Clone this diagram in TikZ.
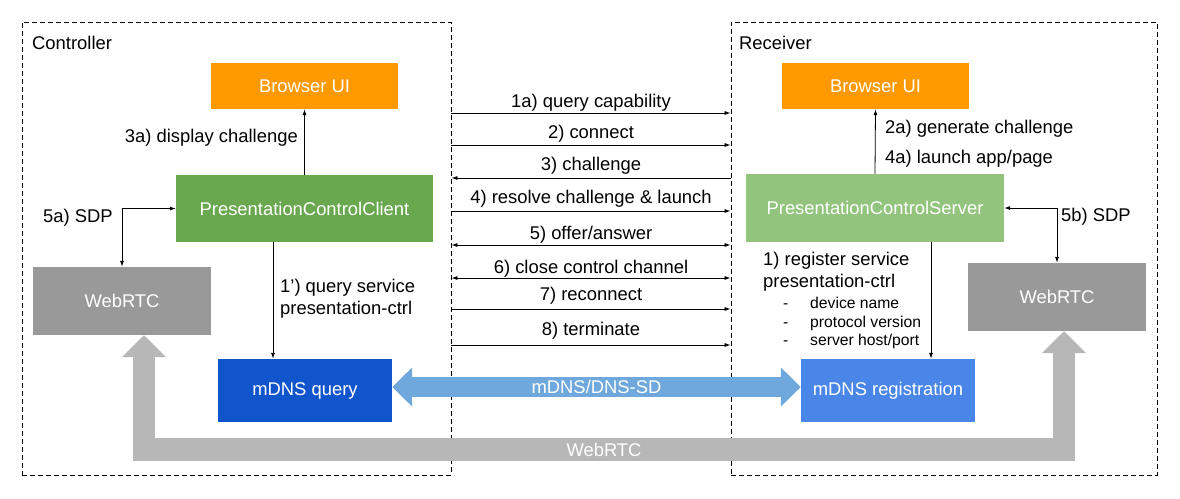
\documentclass[tikz,border=0pt]{standalone}
\usepackage{fontspec}
\setmainfont{Liberation Sans}
\usetikzlibrary{arrows.meta}
\definecolor{uiorange}{HTML}{FF9900}
\definecolor{clientgreen}{HTML}{6AA84F}
\definecolor{servergreen}{HTML}{93C47D}
\definecolor{rtcgray}{HTML}{999999}
\definecolor{querydark}{HTML}{1155CC}
\definecolor{regblue}{HTML}{4A86E8}
\definecolor{dnsblue}{HTML}{6FA8DC}
\definecolor{pipegray}{HTML}{B7B7B7}
\begin{document}
\begin{tikzpicture}[x=1pt, y=-1pt, >={Latex[length=6pt,width=4pt]},
  every node/.style={font=\fontsize{18.4}{22}\selectfont, inner sep=0pt},
  zone/.style={draw, line width=0.9pt, dash pattern=on 5pt off 3pt, minimum height=453},
  box/.style={rectangle, text=white},
  msg/.style={line width=0.8pt},
  small/.style={font=\fontsize{15.7}{18}\selectfont, anchor=base west}]
\useasboundingbox (0,0) rectangle (1180,498);
% the two sides
\node[zone, minimum width=429] (ctrl) at (236.5,248.5) {};
\node[zone, minimum width=426] (recv) at (944,248.5) {};
\node[anchor=west] (ctrlname) at (32,43) {Controller};
\node[anchor=west] (recvname) at (739,43) {Receiver};
% boxes
\node[box, fill=uiorange, minimum width=187, minimum height=46] (uiC) at (304.5,86) {Browser UI};
\node[box, fill=uiorange, minimum width=187, minimum height=46] (uiR) at (875.5,86) {Browser UI};
\node[box, fill=clientgreen, minimum width=257, minimum height=67] (client) at (304.5,208.5) {PresentationControlClient};
\node[box, fill=servergreen, minimum width=258, minimum height=68] (server) at (875,208) {PresentationControlServer};
\node[box, fill=rtcgray, minimum width=178, minimum height=68] (rtcC) at (122,301) {WebRTC};
\node[box, fill=rtcgray, minimum width=178, minimum height=68] (rtcR) at (1057,297) {WebRTC};
\node[box, fill=querydark, minimum width=174, minimum height=63] (query) at (305,390.5) {mDNS query};
\node[box, fill=regblue, minimum width=174, minimum height=63] (reg) at (888,390.5) {mDNS registration};
% big arrows
\draw[dnsblue, line width=20pt, {Triangle[length=20pt,width=38pt]}-{Triangle[length=20pt,width=38pt]}]
  ([yshift=3.5pt]query.east) -- ([yshift=3.5pt]reg.west) node[midway, text=white] {mDNS/DNS-SD};
\draw[pipegray, line width=22.5pt, {Triangle[length=22pt,width=43pt]}-{Triangle[length=22pt,width=43pt]}]
  ([xshift=22pt]rtcC.south) -- ++(0,114.5) -| ([xshift=7pt]rtcR.south) node[pos=0.25, text=white] {WebRTC};
% messages between the sides
\draw[msg, ->] (ctrl.east |- 0,113) -- (recv.west |- 0,113) node[midway, above=1pt] {1a) query capability};
\draw[msg, ->] (ctrl.east |- 0,145) -- (recv.west |- 0,145) node[midway, above=2pt] {2) connect};
\draw[msg, ->] (recv.west |- 0,178) -- (ctrl.east |- 0,178) node[midway, above=3pt] {3) challenge};
\draw[msg, ->] (ctrl.east |- 0,211) -- (recv.west |- 0,211) node[midway, above=3pt] {4) resolve challenge \& launch};
\draw[msg, <->] (ctrl.east |- 0,245) -- (recv.west |- 0,245) node[midway, above=1pt] {5) offer/answer};
\draw[msg, <->] (ctrl.east |- 0,278) -- (recv.west |- 0,278) node[midway, above=0pt] {6) close control channel};
\draw[msg, ->] (ctrl.east |- 0,309) -- (recv.west |- 0,309) node[midway, above=4pt] {7) reconnect};
\draw[msg, ->] (ctrl.east |- 0,345) -- (recv.west |- 0,345) node[midway, above=5pt] {8) terminate};
% controller side
\draw[msg, ->] (client.north) -- (uiC.south);
\node[anchor=east] (displaylbl) at (298,138) {3a) display challenge};
\draw[msg, <->] (client.west) -| (rtcC.north);
\node[anchor=west] (sdpC) at (43,218) {5a) SDP};
\draw[msg, ->] ([xshift=-31.5pt]client.south) -- ([xshift=-31.5pt]client.south |- query.north);
\node[anchor=west, align=left] (querylbl) at (280,299) {1') query service\\presentation-ctrl};
% receiver side
\draw[msg, ->] (server.north) -- (uiR.south);
\node[anchor=west] (genlbl) at (885,129) {2a) generate challenge};
\node[anchor=west] (launchlbl) at (885,159) {4a) launch app/page};
\draw[msg, <->] (server.east) -| (rtcR.north);
\node[anchor=west] (sdpR) at (1061,217) {5b) SDP};
\draw[msg, ->] ([xshift=56pt]server.south) -- ([xshift=56pt]server.south |- reg.north);
\node[anchor=west, align=left] (reglbl) at (763,272) {1) register service\\presentation-ctrl};
\node[small] (dash1) at (783,308.5) {-};
\node[small] (dash2) at (783,327.5) {-};
\node[small] (dash3) at (783,345.5) {-};
\node[small] (item1) at (810,308.5) {device name};
\node[small] (item2) at (810,327.5) {protocol version};
\node[small] (item3) at (810,345.5) {server host/port};
\end{tikzpicture}
\end{document}
